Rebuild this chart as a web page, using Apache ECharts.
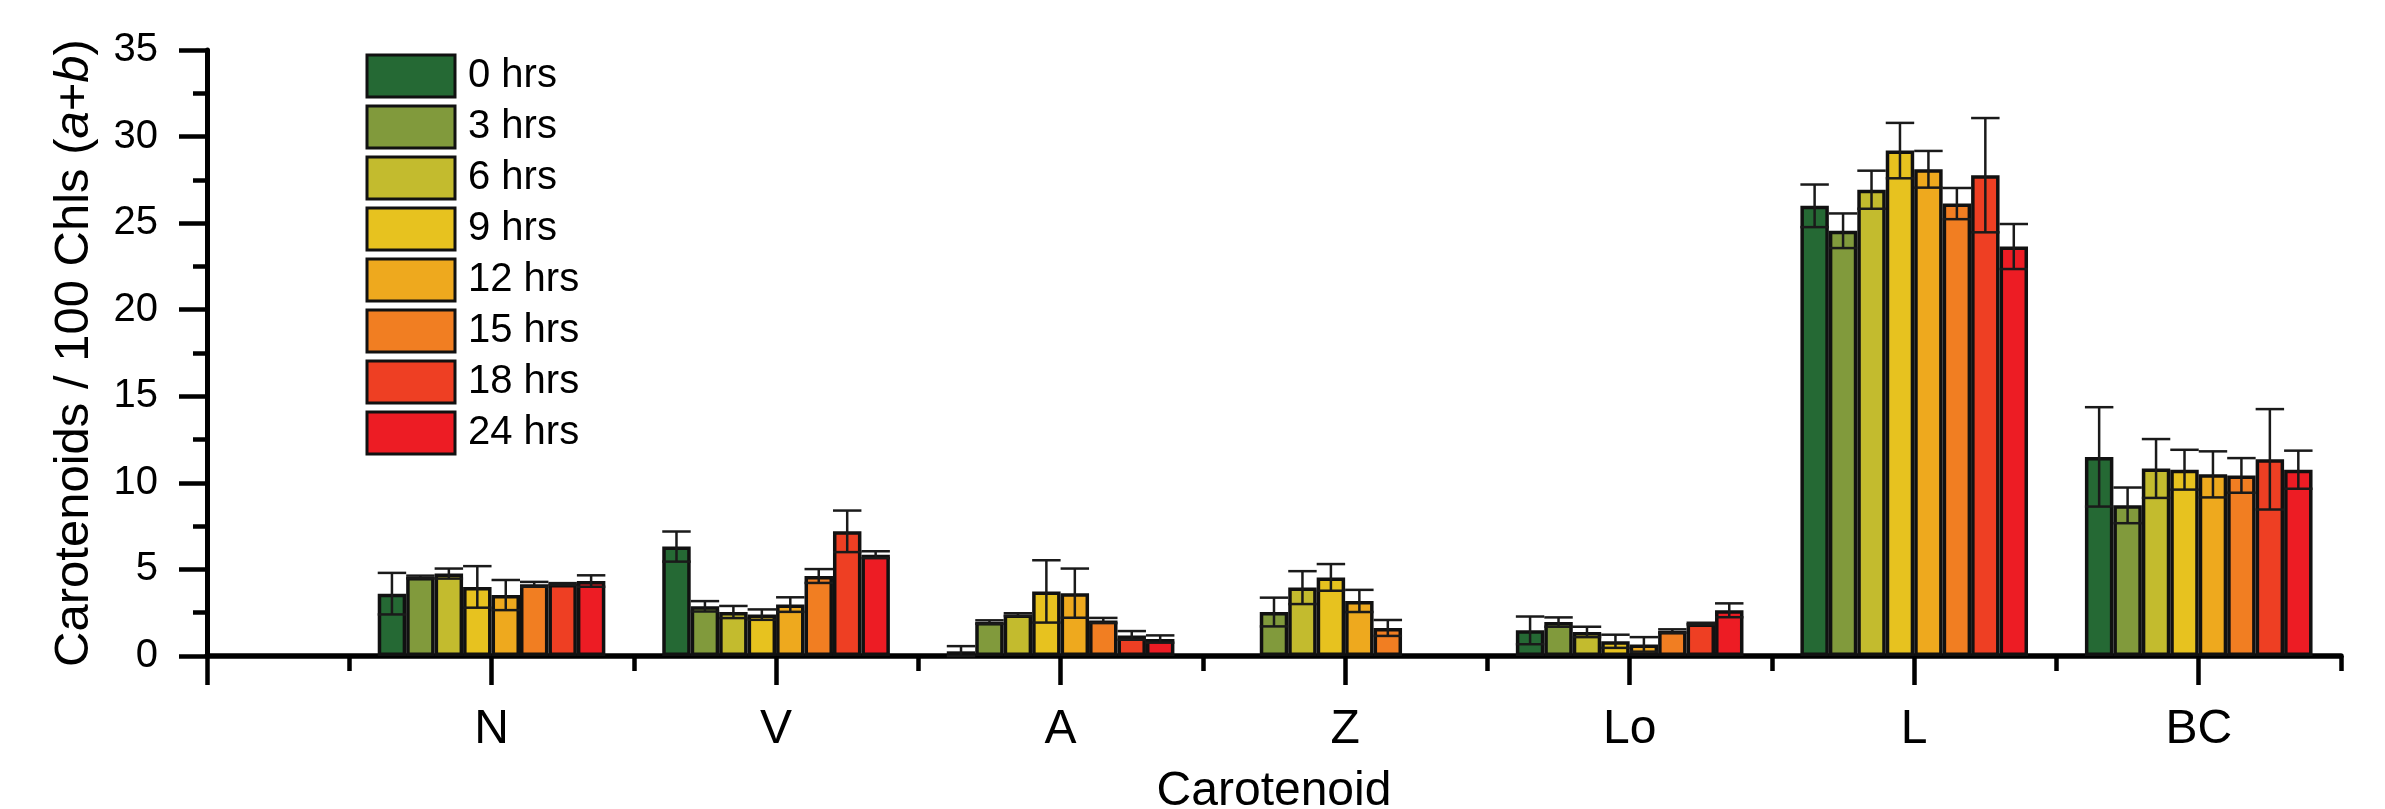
<!DOCTYPE html>
<html>
<head>
<meta charset="utf-8">
<script src="https://cdn.jsdelivr.net/npm/echarts@6/dist/echarts.min.js"></script>
<style>
  html, body { margin: 0; padding: 0; background: #fff; }
  #chart { width: 2385px; height: 809px; }
</style>
</head>
<body>
<div id="chart"></div>
<script>
const categories = ["N", "V", "A", "Z", "Lo", "L", "BC"];
const hours = ["0 hrs", "3 hrs", "6 hrs", "9 hrs", "12 hrs", "15 hrs", "18 hrs", "24 hrs"];
const colors = ["#256934", "#819a3c", "#c3bb2e", "#e7c21f", "#eea91e", "#f17e22", "#ee3f23", "#ed1c24"];

// mean values, one array per time point, in category order
const h0 = [3.6, 6.32, 0.27, null, 1.48, 26.0, 11.5];
const h3 = [4.56, 2.87, 1.96, 2.54, 1.96, 24.56, 8.7];
const h6 = [4.76, 2.54, 2.39, 3.95, 1.39, 26.93, 10.83];
const h9 = [3.99, 2.39, 3.73, 4.54, 0.85, 29.19, 10.76];
const h12 = [3.52, 2.97, 3.63, 3.18, 0.67, 28.11, 10.49];
const h15 = [4.14, 4.62, 2.05, 1.62, 1.44, 26.13, 10.43];
const h18 = [4.16, 7.2, 1.19, null, 1.87, 27.77, 11.36];
const h24 = [4.33, 5.85, 0.98, null, 2.64, 23.65, 10.76];

// standard deviations
const sd0 = [1.2, 0.87, 0.3, null, 0.8, 1.23, 2.87];
const sd3 = [0.08, 0.3, 0.1, 0.83, 0.27, 1.0, 1.03];
const sd6 = [0.29, 0.35, 0.08, 0.95, 0.3, 1.1, 1.7];
const sd9 = [1.2, 0.3, 1.8, 0.77, 0.38, 1.6, 1.15];
const sd12 = [0.87, 0.42, 1.42, 0.64, 0.42, 1.06, 1.33];
const sd15 = [0.14, 0.4, 0.15, 0.46, 0.1, 0.9, 1.0];
const sd18 = [0.05, 1.2, 0.25, null, 0.05, 3.3, 2.9];
const sd24 = [0.33, 0.2, 0.21, null, 0.4, 1.3, 1.1];

const means = [h0, h3, h6, h9, h12, h15, h18, h24];
const sds = [sd0, sd3, sd6, sd9, sd12, sd15, sd18, sd24];

// x axis runs 0..7.5 in half steps; category k sits at slot 2k+2
const slots = [];
for (let i = 0; i < 16; i++) slots.push("");
categories.forEach((c, k) => { slots[2 * k + 2] = c; });

function toSlots(arr) {
  const out = slots.map(() => "-");
  arr.forEach((v, k) => { if (v != null) out[2 * k + 2] = v; });
  return out;
}

const errData = [];
means.forEach((arr, s) => {
  arr.forEach((v, k) => {
    if (v != null) errData.push([2 * k + 2, v, sds[s][k], s]);
  });
});

const font = "Liberation Sans";
const chart = echarts.init(document.getElementById("chart"));

const series = hours.map((h, s) => ({
  name: h,
  type: "bar",
  xAxisIndex: 0,
  data: toSlots(means[s]),
  barWidth: "20%",
  barGap: "0%",
  itemStyle: { color: colors[s], borderColor: "#111", borderWidth: 3.5 },
  z: 2
}));

// error bars: whisker with caps across the full bar width
series.push({
  type: "custom",
  xAxisIndex: 0,
  data: errData,
  encode: { x: 0, y: 1 },
  z: 5,
  silent: true,
  renderItem: function (params, api) {
    const slot = api.value(0), v = api.value(1), sd = api.value(2), s = api.value(3);
    const bw = api.size([1, 0])[0] * 0.2;
    const cx = api.coord([slot, v])[0] + (s - 3.5) * bw;
    const yt = api.coord([slot, v + sd])[1];
    const yb = api.coord([slot, Math.max(v - sd, 0)])[1];
    const st = { stroke: "#1a1a1a", lineWidth: 2.5 };
    return {
      type: "group",
      children: [
        { type: "line", shape: { x1: cx, y1: yt, x2: cx, y2: yb }, style: st },
        { type: "line", shape: { x1: cx - bw / 2, y1: yt, x2: cx + bw / 2, y2: yt }, style: st },
        { type: "line", shape: { x1: cx - bw / 2, y1: yb, x2: cx + bw / 2, y2: yb }, style: st }
      ]
    };
  }
});

chart.setOption({
  animation: false,
  grid: { left: 207, right: 44, top: 50, bottom: 153, outerBoundsMode: "none" },
  legend: {
    data: hours,
    orient: "vertical",
    left: 365.5,
    top: 53.5,
    padding: 0,
    icon: "rect",
    itemWidth: 88,
    itemHeight: 42,
    itemGap: 6,
    itemStyle: { borderColor: "#111", borderWidth: 3 },
    textStyle: { fontFamily: font, fontSize: 40, lineHeight: 42, color: "#000", padding: [0, 0, 0, 8] }
  },
  xAxis: [
    {
      type: "category",
      position: "bottom",
      data: slots,
      boundaryGap: false,
      axisLine: { lineStyle: { color: "#000", width: 5.5 } },
      axisTick: {
        length: 29,
        interval: function (i) { return i % 2 === 0; },
        lineStyle: { color: "#000", width: 4.5 }
      },
      axisLabel: { interval: 0, fontFamily: font, fontSize: 48, color: "#000", margin: 50 },
      name: "Carotenoid",
      nameLocation: "middle",
      nameGap: 112,
      nameTextStyle: { fontFamily: font, fontSize: 48, color: "#000" },
      splitLine: { show: false }
    },
    {
      type: "category",
      position: "bottom",
      data: slots,
      boundaryGap: false,
      axisLine: { show: false },
      axisTick: {
        length: 15,
        interval: function (i) { return i % 2 === 1; },
        lineStyle: { color: "#000", width: 4.5 }
      },
      axisLabel: { show: false },
      splitLine: { show: false }
    }
  ],
  yAxis: {
    type: "value",
    min: 0,
    max: 35,
    interval: 5,
    axisLine: { show: true, lineStyle: { color: "#000", width: 5 } },
    axisTick: { show: true, length: 28, lineStyle: { color: "#000", width: 4.5 } },
    minorTick: { show: true, splitNumber: 2, length: 14, lineStyle: { color: "#000", width: 4.5 } },
    splitLine: { show: false },
    axisLabel: { fontFamily: font, fontSize: 40, color: "#000", margin: 49 },
    name: "Carotenoids / 100 Chls ({i|a}+{i|b})",
    nameLocation: "middle",
    nameGap: 108,
    nameTextStyle: {
      fontFamily: font, fontSize: 49, color: "#000",
      rich: { i: { fontFamily: font, fontSize: 49, fontStyle: "italic", color: "#000" } }
    }
  },
  series: series
});
</script>
</body>
</html>
